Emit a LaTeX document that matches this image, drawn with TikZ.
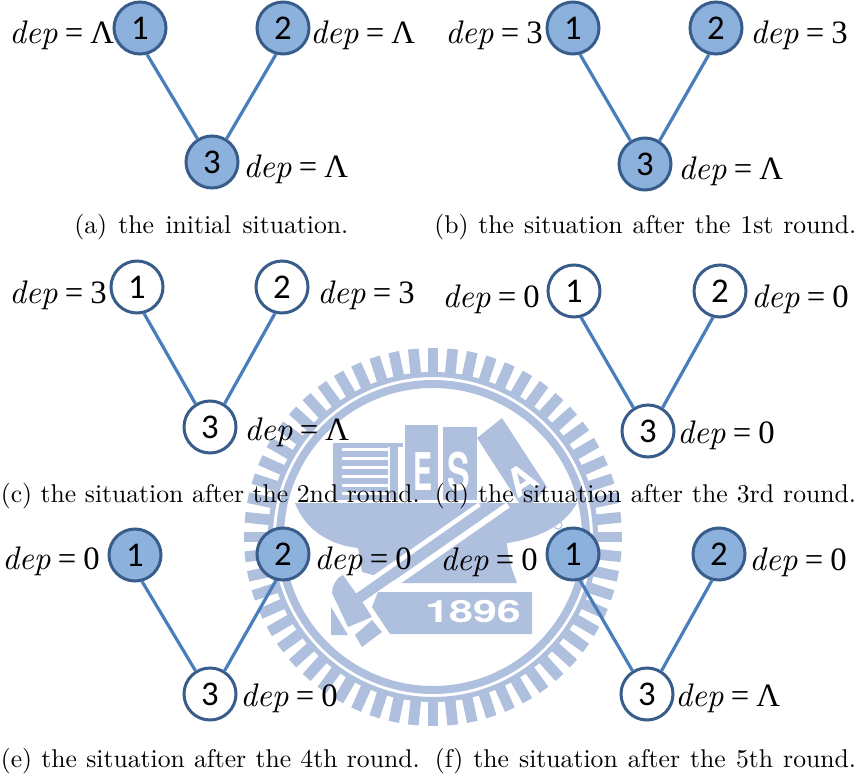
\documentclass[tikz,border=0pt]{standalone}
\usepackage{fontspec}
\usepackage{xcolor}
\newfontfamily\depfont{Liberation Serif}
\newfontfamily\depit{lmroman10-italic.otf}
\newfontfamily\numfont{Carlito}
\newfontfamily\wmfont{TeX Gyre Heros}
\newfontfamily\capfont{lmroman10-regular.otf}
\definecolor{vnode}{HTML}{8DB1DD}
\definecolor{vline}{HTML}{385D8A}
\definecolor{vedge}{HTML}{4A7EBB}
\definecolor{wmblue}{HTML}{AFBFDE}
\newcommand{\dep}[1]{{\depit dep}\hspace{.22em}=\hspace{.22em}#1}
\tikzset{
  nopen/.style={circle,draw=vline,line width=2.25pt,fill=white,minimum size=39pt,inner sep=0pt,font=\numfont\fontsize{26}{26}\selectfont},
  nfull/.style={nopen,fill=vnode},
  varr/.style={vedge,line width=2.4pt},
  deplab/.style={anchor=base west,inner sep=0pt,xshift=-2.25pt,font=\depfont\fontsize{24.5}{25}\selectfont},
  caplab/.style={anchor=base west,inner sep=0pt,font=\capfont\fontsize{19.25}{20}\selectfont},
  wmtick/.style={wmblue,line width=8pt},
  wmfill/.style={fill=wmblue},
  wmcut/.style={white,line width=4.5pt},
  wmtext/.style={white,inner sep=0pt,font=\wmfont\bfseries\fontsize{39}{39}\selectfont},
}
\begin{document}
\begin{tikzpicture}[x=0.75pt,y=-0.75pt]
  \useasboundingbox (0,0) rectangle (857,778);
  % watermark
  \coordinate (wm) at (433,537);
  \foreach \a in {0,6,...,354}
    \draw[wmtick] ([shift={(\a:162)}]wm) -- ([shift={(\a:189)}]wm);
  \draw[wmblue,line width=3.8pt] (wm) circle[radius=162.5];
  \draw[wmblue,line width=6pt] (wm) circle[radius=153];
  \fill[wmfill] (333,443) rectangle (403,447);
  \fill[wmfill] (333,443) rectangle (388,500);
  \fill[wmfill] (390,443) rectangle (398,500);
  \foreach \y in {448,457,466,475,484,492}
    \fill[white] (342,\y) rectangle (388,\y+3);
  \fill[wmfill] (405,425) rectangle (438,500);
  \fill[wmfill] (443,427) rectangle (477,500);
  \fill[wmfill] (502,418) -- (477,438) -- (525,512) -- (547,487) -- cycle;
  \fill[wmfill] (295,503) -- (577,503) .. controls (565,525) and (540,538) .. (507,543)
    .. controls (508,560) and (513,572) .. (517,583) -- (402,583) -- (362,572)
    -- (358,548) .. controls (330,545) and (305,530) .. (295,503);
  \draw[wmcut] (480,505) -- (355,592);
  \draw[wmcut] (508,505) -- (363,606);
  \draw[wmblue,line width=8pt] (492,505) -- (359,598);
  \fill[wmfill] (355,592) -- (343,575) .. controls (336,578) and (332,586) .. (332,593)
    -- (348,627) -- (372,617) -- (363,603) -- cycle;
  \fill[wmfill] (355,635) -- (362,647) -- (382,632) -- (372,620) -- cycle;
  \fill[wmfill] (331,607) -- (348,635) -- (331,635) -- cycle;
  \fill[wmfill] (378,592) -- (532,592) -- (532,634) -- (390,634) -- (372,607) -- cycle;
  \draw[wmblue,line width=0.8pt] (558,525) circle[radius=4];
  \node[wmtext,xscale=0.55] (wmE) at (423,472) {E};
  \node[wmtext,xscale=0.65] (wmS) at (459,472) {S};
  \node[wmtext,rotate=33,font=\wmfont\bfseries\fontsize{29}{29}\selectfont] (wmA) at (522,480) {A};
  \node[wmtext,xscale=1.4,font=\wmfont\bfseries\fontsize{23}{23}\selectfont] (wmY) at (473,612) {1896};
  % (a)
  \node[nfull] (a1) at (140,28) {1};
  \node[nfull] (a2) at (283,28) {2};
  \node[nfull] (a3) at (212,162) {3};
  \node[deplab] (da1) at (12,43) {\dep{Λ}};
  \node[deplab] (da2) at (313,43) {\dep{Λ}};
  \node[deplab] (da3) at (246,177) {\dep{Λ}};
  \node[caplab] (ca) at (74,233) {\makebox[205.5pt][s]{(a) the initial situation.}};
  % (b)
  \node[nfull] (b1) at (573,28) {1};
  \node[nfull] (b2) at (716,28) {2};
  \node[nfull] (b3) at (645,164) {3};
  \node[deplab] (db1) at (448,43) {\dep{3}};
  \node[deplab] (db2) at (753,43) {\dep{3}};
  \node[deplab] (db3) at (681,179) {\dep{Λ}};
  \node[caplab] (cb) at (434,233) {\makebox[316.5pt][s]{(b) the situation after the 1st round.}};
  % (c)
  \node[nopen] (c1) at (137,287) {1};
  \node[nopen] (c2) at (282,287) {2};
  \node[nopen] (c3) at (210,427) {3};
  \node[deplab] (dc1) at (12,303) {\dep{3}};
  \node[deplab] (dc2) at (320,303) {\dep{3}};
  \node[deplab] (dc3) at (247,440) {\dep{Λ}};
  \node[caplab] (cc) at (0.5,502) {\makebox[314.2pt][s]{(c) the situation after the 2nd round.}};
  % (d)
  \node[nopen] (d1) at (574,291) {1};
  \node[nopen] (d2) at (720,291) {2};
  \node[nopen] (d3) at (648,431) {3};
  \node[deplab] (dd1) at (445,307) {\dep{0}};
  \node[deplab] (dd2) at (754,307) {\dep{0}};
  \node[deplab] (dd3) at (680,443) {\dep{0}};
  \node[caplab] (cd) at (434.5,502) {\makebox[316pt][s]{(d) the situation after the 3rd round.}};
  % (e)
  \node[nfull] (e1) at (135,555) {1};
  \node[nfull] (e2) at (283,554) {2};
  \node[nopen] (e3) at (210,694) {3};
  \node[deplab] (de1) at (5,569) {\dep{0}};
  \node[deplab] (de2) at (317,569) {\dep{0}};
  \node[deplab] (de3) at (243,706) {\dep{0}};
  \node[caplab] (ce) at (0.5,767) {\makebox[314.2pt][s]{(e) the situation after the 4th round.}};
  % (f)
  \node[nfull] (f1) at (573,554) {1};
  \node[nfull] (f2) at (719,554) {2};
  \node[nopen] (f3) at (647,694) {3};
  \node[deplab] (df1) at (443,570) {\dep{0}};
  \node[deplab] (df2) at (752,570) {\dep{0}};
  \node[deplab] (df3) at (678,706) {\dep{Λ}};
  \node[caplab] (cf) at (434.5,767) {\makebox[316pt][s]{(f) the situation after the 5th round.}};
  \foreach \p in {a,...,f}
    \draw[varr] (\p1.-75) -- (\p3.122) (\p2.-105) -- (\p3.58);
\end{tikzpicture}
\end{document}
